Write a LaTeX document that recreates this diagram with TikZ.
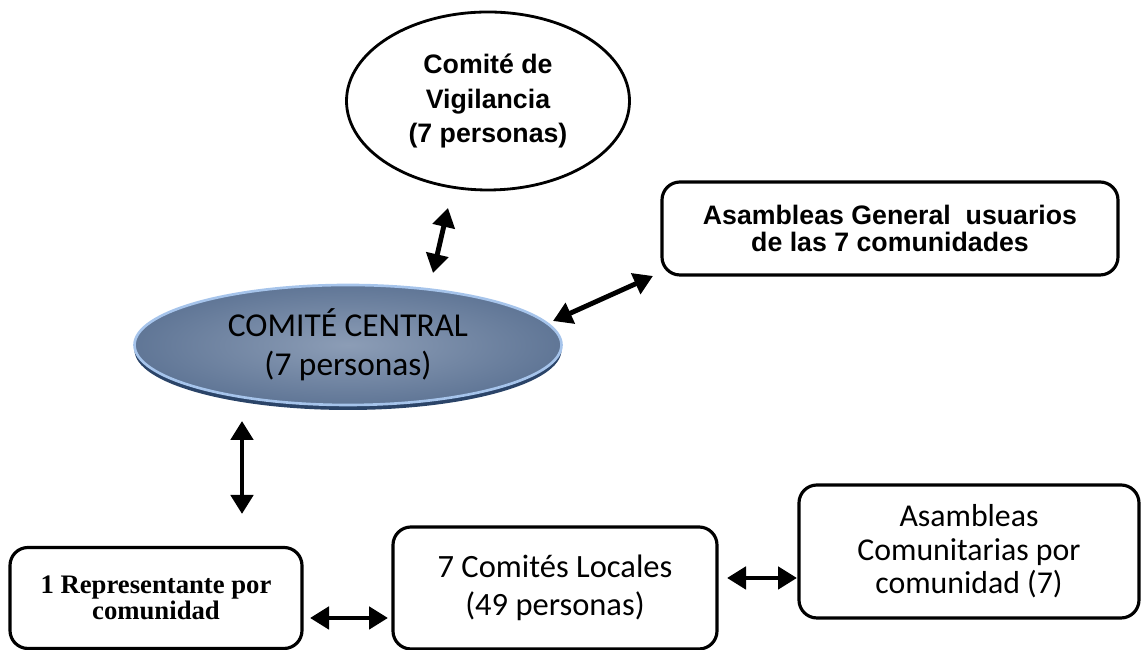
\documentclass[tikz,border=0pt]{standalone}
\usepackage{fontspec}
\setmainfont{Liberation Sans}
\newfontfamily\carlitofont{Carlito}
\newfontfamily\timesfont{Liberation Serif}
\usetikzlibrary{arrows.meta,shapes.geometric}
\definecolor{cenlight}{RGB}{140,157,182}
\definecolor{cendark}{RGB}{96,118,150}
\definecolor{cenrim}{RGB}{166,196,235}
\definecolor{censhadow}{RGB}{43,68,104}

\begin{document}
\begin{tikzpicture}[scale=1, transform shape]
	\tikzset{
		roundbox/.style={shape=rectangle, draw, line width=1.8pt, rounded corners=0.36cm, align=center},
		linkarrow/.style={line width=2.8pt, {Triangle[length=0.38cm, width=0.44cm]}-{Triangle[length=0.38cm, width=0.44cm]}}
	}
	\useasboundingbox (0, 0) rectangle (22.82, 13);

	% Nodes:
	\node[ellipse, draw, line width=1.6pt, minimum width=5.66cm, minimum height=3.56cm, align=center, font=\fontsize{15.2}{19.8}\selectfont\bfseries](vig) at (9.76, 10.98){Comité de\\Vigilancia\\(7 personas)};
	\node[roundbox, minimum width=9.12cm, minimum height=1.86cm, font=\fontsize{15.2}{15.3}\selectfont\bfseries](asg) at (17.8, 8.43){Asambleas General\ \ usuarios\\de las 7 comunidades};
	\node[ellipse, minimum width=8.54cm, minimum height=2.4cm, inner color=cenlight, outer color=cendark, draw=cenrim, line width=1.5pt, preaction={fill=censhadow, transform canvas={yshift=-0.1cm}}, align=center, font=\fontsize{19}{22.4}\selectfont\carlitofont](cen) at (6.96, 6.1){COMITÉ CENTRAL\\(7 personas)};
	\node[roundbox, minimum width=5.84cm, minimum height=2.02cm, font=\fontsize{15.2}{14.6}\selectfont\timesfont\bfseries](rep) at (3.12, 1.04){1 Representante por\\comunidad};
	\node[roundbox, minimum width=6.48cm, minimum height=2.44cm, font=\fontsize{18.5}{21.5}\selectfont\carlitofont](com) at (11.1, 1.24){7 Comités Locales\\(49 personas)};
	\node[roundbox, minimum width=6.8cm, minimum height=2.66cm, font=\fontsize{18.1}{19}\selectfont\carlitofont](asc) at (19.38, 1.97){Asambleas\\Comunitarias por\\comunidad (7)};

	% Arrow ends:
	\coordinate (vigend) at (8.96, 8.84);
	\coordinate (cenvig) at (8.66, 7.54);
	\coordinate (cenasg) at (11.06, 6.58);
	\coordinate (asgend) at (13.06, 7.48);
	\coordinate (cenrep) at (4.84, 4.58);
	\coordinate (repend) at (4.84, 2.72);
	\coordinate (repcom) at (6.2, 0.64);
	\coordinate (comrep) at (7.76, 0.64);
	\coordinate (comasc) at (14.54, 1.44);
	\coordinate (asccom) at (15.94, 1.44);

	% Arrows:
	\draw[linkarrow] (vigend) -- (cenvig);
	\draw[linkarrow] (cenasg) -- (asgend);
	\draw[linkarrow] (cenrep) -- (repend);
	\draw[linkarrow] (repcom) -- (comrep);
	\draw[linkarrow] (comasc) -- (asccom);

\end{tikzpicture}
\end{document}
